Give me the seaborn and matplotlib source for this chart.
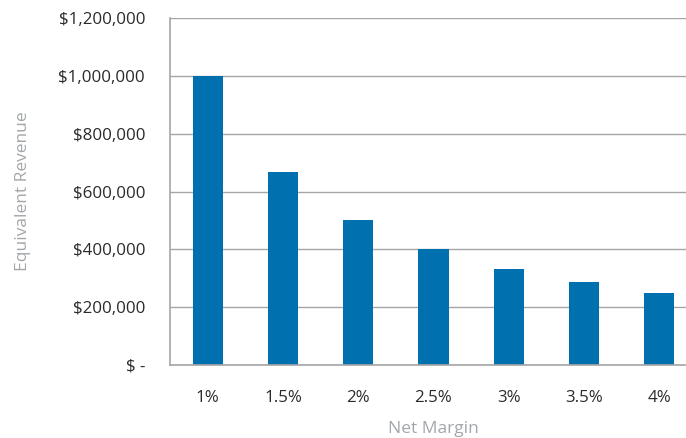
import matplotlib
matplotlib.use("Agg")
import matplotlib.pyplot as plt
import seaborn as sns
import pandas as pd
from matplotlib.ticker import FixedLocator

margins = ["1%", "1.5%", "2%", "2.5%", "3%", "3.5%", "4%"]
revenue = [1000000, 666667, 500000, 400000, 333333, 285714, 250000]
ytick_vals = [0, 200000, 400000, 600000, 800000, 1000000, 1200000]
ytick_labels = ["$ -", "$200,000", "$400,000", "$600,000", "$800,000", "$1,000,000", "$1,200,000"]

df = pd.DataFrame({"Net Margin": margins, "Equivalent Revenue": revenue})

sns.set_style("white")
plt.rcParams["font.family"] = ["Open Sans", "DejaVu Sans"]

fig = plt.figure(figsize=(6.86, 4.38), dpi=100)
ax = fig.add_axes([170/686, 73/438, 527/686, 347/438])

sns.barplot(data=df, x="Net Margin", y="Equivalent Revenue", color="#0070AF",
            width=0.4, saturation=1, ax=ax, edgecolor="none")

ax.set_ylim(0, 1200000)
ax.set_xlim(-0.5, len(margins) - 0.5)
ax.set_yticks(ytick_vals)
ax.set_yticklabels(ytick_labels)
ax.yaxis.grid(True, color="#a6a6a6", linewidth=1)
ax.set_axisbelow(True)

for s in ["top", "right"]:
    ax.spines[s].set_visible(False)
for s in ["left", "bottom"]:
    ax.spines[s].set_color("#a6a6a6")
    ax.spines[s].set_linewidth(1.2)

ax.tick_params(axis="y", length=5, width=1, color="#a6a6a6", labelsize=12.2,
               labelcolor="#2b2b2b", pad=13)
ax.tick_params(axis="x", which="major", length=0, labelsize=12.2,
               labelcolor="#2b2b2b", pad=18)
ax.xaxis.set_minor_locator(FixedLocator([i - 0.5 for i in range(len(margins) + 1)]))
ax.tick_params(axis="x", which="minor", length=6, width=1, color="#a6a6a6")

ax.set_xlabel("Net Margin", color="#a3a7ab", fontsize=12.5, labelpad=11)
ax.set_ylabel("Equivalent Revenue", color="#a3a7ab", fontsize=12.5, labelpad=20)

fig.savefig("out.png", dpi=100)
